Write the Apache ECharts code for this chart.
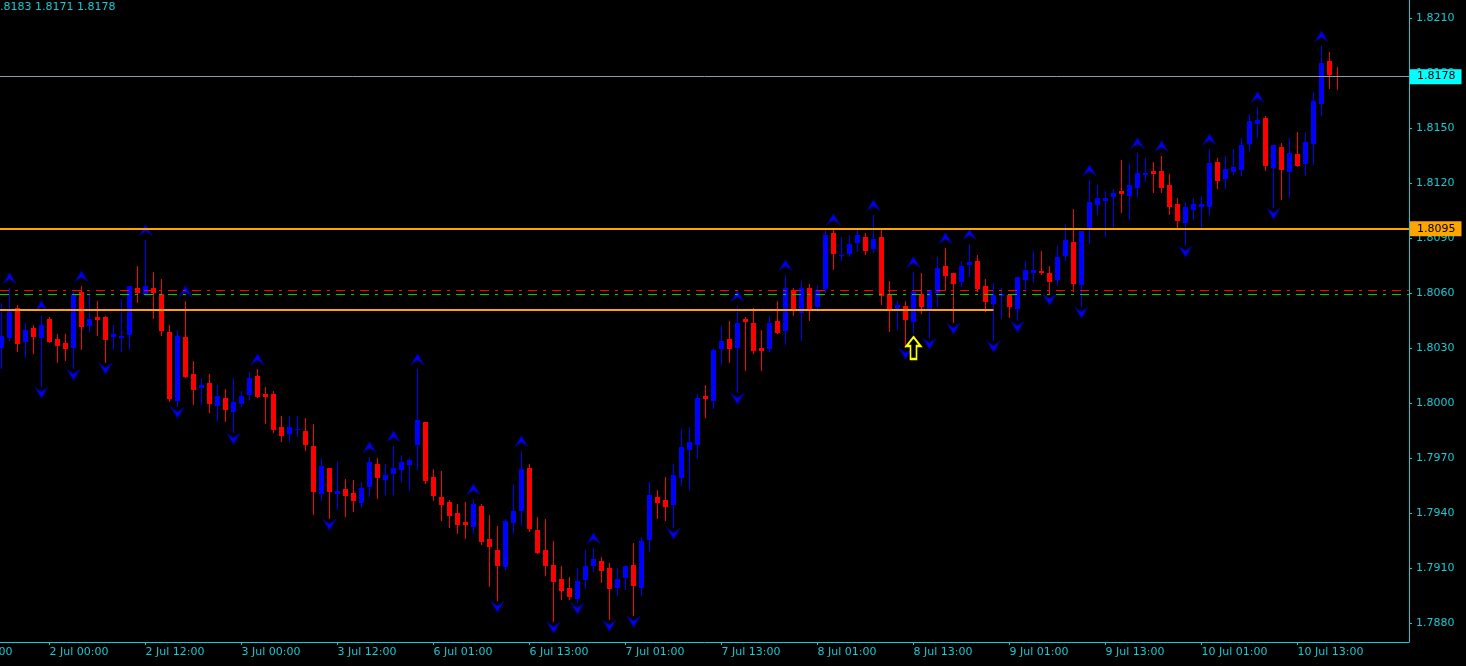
<!DOCTYPE html>
<html><head><meta charset="utf-8">
<script src="https://cdn.jsdelivr.net/npm/echarts@6/dist/echarts.min.js"></script>
<style>html,body{margin:0;padding:0;background:#000;}#c{width:1466px;height:666px;}</style>
</head><body><div id="c"></div>
<script>
// ---- DATA (GBPCAD H1, 1 Jul 18:00 .. 10 Jul 18:00) ----
const opens = [
1.80300,1.80355,1.80518,1.80333,1.80409,1.80355,1.80458,1.80349,1.80327,1.80300,
1.80605,1.80420,1.80469,1.80469,1.80360,1.80355,1.80371,1.80627,1.80589,1.80627,
1.80595,1.80387,1.80011,1.80360,1.80158,1.80082,1.80109,1.79984,1.80027,1.79951,
1.79995,1.80044,1.80147,1.80049,1.80049,1.79869,1.79831,1.79853,1.79847,1.79765,
1.79504,1.79645,1.79504,1.79531,1.79509,1.79455,1.79542,1.79667,1.79580,1.79613,
1.79635,1.79662,1.79771,1.79896,1.79596,1.79487,1.79460,1.79400,1.79351,1.79324,
1.79438,1.79258,1.79198,1.79105,1.79345,1.79411,1.79645,1.79307,1.79198,1.79116,
1.79040,1.78991,1.78931,1.79035,1.79111,1.79138,1.79100,1.78991,1.79046,1.79116,
1.78991,1.79253,1.79487,1.79471,1.79444,1.79591,1.79744,1.79771,1.80038,1.80011,
1.80295,1.80349,1.80300,1.80458,1.80436,1.80300,1.80295,1.80447,1.80393,1.80616,
1.80491,1.80627,1.80524,1.80622,1.80927,1.80802,1.80813,1.80873,1.80905,1.80840,
1.80905,1.80595,1.80513,1.80529,1.80442,1.80595,1.80513,1.80600,1.80747,1.80709,
1.80660,1.80753,1.80775,1.80638,1.80540,1.80584,1.80589,1.80513,1.80671,1.80709,
1.80720,1.80709,1.80671,1.80802,1.80878,1.80644,1.80955,1.81080,1.81102,1.81124,
1.81156,1.81129,1.81173,1.81244,1.81265,1.81265,1.81189,1.81085,1.80982,1.81053,
1.81069,1.81069,1.81315,1.81222,1.81260,1.81271,1.81413,1.81522,1.81555,1.81282,
1.81396,1.81260,1.81358,1.81304,1.81413,1.81631,1.81865,1.81785];
const highs = [
1.80545,1.80627,1.80535,1.80436,1.80425,1.80475,1.80469,1.80376,1.80376,1.80605,
1.80638,1.80589,1.80556,1.80475,1.80425,1.80567,1.80638,1.80747,1.80889,1.80715,
1.80676,1.80425,1.80398,1.80556,1.80229,1.80136,1.80158,1.80098,1.80076,1.80136,
1.80065,1.80169,1.80185,1.80087,1.80065,1.79929,1.79929,1.79929,1.79918,1.79885,
1.79700,1.79645,1.79678,1.79585,1.79580,1.79569,1.79705,1.79700,1.79667,1.79765,
1.79716,1.79700,1.80185,1.79896,1.79640,1.79629,1.79471,1.79449,1.79460,1.79476,
1.79449,1.79389,1.79329,1.79367,1.79558,1.79738,1.79667,1.79378,1.79367,1.79247,
1.79111,1.79051,1.79100,1.79198,1.79209,1.79160,1.79127,1.79100,1.79116,1.79236,
1.79269,1.79569,1.79525,1.79596,1.79667,1.79858,1.79869,1.80049,1.80098,1.80300,
1.80420,1.80447,1.80529,1.80469,1.80518,1.80398,1.80475,1.80556,1.80698,1.80627,
1.80665,1.80649,1.80638,1.80944,1.80949,1.80905,1.80916,1.80944,1.80927,1.81025,
1.80944,1.80665,1.80556,1.80556,1.80715,1.80709,1.80616,1.80796,1.80845,1.80709,
1.80775,1.80867,1.80807,1.80676,1.80655,1.80627,1.80589,1.80687,1.80775,1.80829,
1.80829,1.80747,1.80856,1.80976,1.81058,1.80938,1.81216,1.81189,1.81156,1.81167,
1.81325,1.81309,1.81364,1.81336,1.81315,1.81347,1.81249,1.81118,1.81096,1.81118,
1.81129,1.81385,1.81336,1.81347,1.81385,1.81445,1.81576,1.81615,1.81565,1.81407,
1.81418,1.81445,1.81478,1.81478,1.81696,1.81947,1.81915,1.81830];
const lows = [
1.80191,1.80344,1.80284,1.80251,1.80273,1.80093,1.80333,1.80224,1.80235,1.80191,
1.80295,1.80393,1.80371,1.80224,1.80295,1.80284,1.80295,1.80551,1.80589,1.80464,
1.80371,1.80011,1.79984,1.80142,1.79995,1.79995,1.79951,1.79902,1.79902,1.79842,
1.79984,1.80022,1.80033,1.79891,1.79842,1.79793,1.79793,1.79820,1.79744,1.79395,
1.79471,1.79373,1.79422,1.79384,1.79411,1.79433,1.79493,1.79482,1.79504,1.79504,
1.79575,1.79526,1.79640,1.79564,1.79471,1.79362,1.79324,1.79291,1.79264,1.79291,
1.79231,1.79002,1.78925,1.79089,1.79291,1.79335,1.79302,1.79182,1.79062,1.78811,
1.78931,1.78931,1.78915,1.78991,1.79084,1.79024,1.78822,1.78953,1.78986,1.78844,
1.78953,1.79193,1.79373,1.79362,1.79324,1.79553,1.79531,1.79700,1.79924,1.79973,
1.80213,1.80224,1.80060,1.80180,1.80273,1.80180,1.80284,1.80382,1.80322,1.80480,
1.80344,1.80453,1.80502,1.80605,1.80731,1.80780,1.80802,1.80829,1.80813,1.80824,
1.80540,1.80393,1.80404,1.80305,1.80387,1.80491,1.80360,1.80529,1.80616,1.80442,
1.80638,1.80693,1.80611,1.80502,1.80344,1.80464,1.80469,1.80453,1.80611,1.80660,
1.80704,1.80600,1.80644,1.80780,1.80611,1.80529,1.80873,1.81031,1.80911,1.80960,
1.81042,1.81004,1.81124,1.81211,1.81151,1.81151,1.81031,1.80960,1.80862,1.81004,
1.80960,1.81031,1.81173,1.81173,1.81249,1.81244,1.81380,1.81451,1.81271,1.81069,
1.81113,1.81124,1.81293,1.81244,1.81304,1.81571,1.81718,1.81710];
const closes = [
1.80365,1.80507,1.80322,1.80398,1.80360,1.80425,1.80333,1.80311,1.80295,1.80595,
1.80415,1.80458,1.80453,1.80344,1.80376,1.80365,1.80638,1.80600,1.80638,1.80600,
1.80393,1.80022,1.80365,1.80142,1.80071,1.80098,1.79995,1.80038,1.79962,1.80005,
1.80038,1.80136,1.80033,1.80033,1.79853,1.79820,1.79869,1.79858,1.79771,1.79515,
1.79656,1.79515,1.79520,1.79493,1.79465,1.79536,1.79678,1.79591,1.79607,1.79645,
1.79678,1.79689,1.79907,1.79575,1.79493,1.79444,1.79384,1.79335,1.79335,1.79449,
1.79242,1.79215,1.79111,1.79356,1.79411,1.79640,1.79313,1.79182,1.79111,1.79024,
1.78975,1.78942,1.79029,1.79111,1.79149,1.79084,1.78986,1.79040,1.79111,1.79002,
1.79247,1.79498,1.79455,1.79433,1.79607,1.79760,1.79787,1.80027,1.80022,1.80289,
1.80338,1.80295,1.80436,1.80442,1.80284,1.80284,1.80436,1.80382,1.80627,1.80502,
1.80627,1.80513,1.80616,1.80916,1.80813,1.80807,1.80867,1.80916,1.80829,1.80895,
1.80584,1.80502,1.80535,1.80453,1.80605,1.80524,1.80616,1.80736,1.80693,1.80649,
1.80747,1.80769,1.80622,1.80551,1.80589,1.80595,1.80524,1.80687,1.80725,1.80725,
1.80709,1.80660,1.80796,1.80889,1.80649,1.80938,1.81096,1.81118,1.81118,1.81145,
1.81140,1.81189,1.81255,1.81255,1.81249,1.81173,1.81069,1.80993,1.81069,1.81085,
1.81085,1.81309,1.81211,1.81276,1.81287,1.81407,1.81538,1.81544,1.81293,1.81407,
1.81271,1.81364,1.81293,1.81424,1.81647,1.81855,1.81789,1.81780];
const upFractals = [1,5,10,18,23,32,46,49,52,59,65,74,92,98,104,109,114,118,121,136,142,145,151,157,165];
const downFractals = [5,9,13,22,29,41,62,69,72,76,79,84,92,113,116,119,124,127,131,135,148,159];
const xTickIdx = [6,18,30,42,54,66,78,90,102,114,126,138,150,162];
const xTickLabels = ['2 Jul 00:00','2 Jul 12:00','3 Jul 00:00','3 Jul 12:00','6 Jul 01:00','6 Jul 13:00','7 Jul 01:00','7 Jul 13:00','8 Jul 01:00','8 Jul 13:00','9 Jul 01:00','9 Jul 13:00','10 Jul 01:00','10 Jul 13:00'];
const prevTickLabel = '1 Jul 12:00';
const yTicks = [1.7880,1.7910,1.7940,1.7970,1.8000,1.8030,1.8060,1.8090,1.8120,1.8150,1.8180,1.8210];
const resistanceLevel = 1.8095;
const supportLevel = 1.8051;
const supportEndIdx = 124;
const pivotRed = 1.80615;
const pivotGreen = 1.80593;
const bidPrice = 1.8178;
const signalIdx = 114;
const headerText = '.8183 1.8171 1.8178';

// ---- CHART ----
const FG = '#19c9d3';
const FONT = 'DejaVu Sans';
const X_MIN = -0.1875, X_MAX = 175.9375;
const Y_MIN = 1.78696, Y_MAX = 1.82198;

const candleData = opens.map((o, i) => [i, o, closes[i], lows[i], highs[i]]);

function hLine(value, x0, x1, lineStyle, label) {
  return [
    {coord: [x0, value]},
    {coord: [x1, value], lineStyle: lineStyle, label: label || {show: false}}
  ];
}
function priceTag(value, bg) {
  return {show: true, position: 'end', distance: 1, formatter: value.toFixed(4),
          backgroundColor: bg, color: '#000', fontFamily: FONT, fontSize: 11,
          padding: [2, 6, 1, 7], lineHeight: 12};
}

const chart = echarts.init(document.getElementById('c'), null, {renderer: 'canvas'});
chart.setOption({
  backgroundColor: '#000000',
  animation: false,
  grid: {left: 0, right: 57, top: 0, bottom: 24, containLabel: false},
  xAxis: {
    type: 'value', min: X_MIN, max: X_MAX,
    axisLine: {show: true, onZero: false, lineStyle: {color: FG, width: 1}},
    axisTick: {show: true, length: 3, customValues: xTickIdx, lineStyle: {color: FG}},
    axisLabel: {
      show: true, customValues: xTickIdx, color: FG, fontFamily: FONT, fontSize: 11,
      align: 'left', margin: 5,
      formatter: v => xTickLabels[xTickIdx.indexOf(Math.round(v))] || ''
    },
    splitLine: {show: false}
  },
  yAxis: {
    type: 'value', position: 'right', min: Y_MIN, max: Y_MAX, scale: true,
    axisLine: {show: true, onZero: false, lineStyle: {color: FG, width: 1}},
    axisTick: {show: true, length: 3, customValues: yTicks, lineStyle: {color: FG}},
    axisLabel: {
      show: true, customValues: yTicks, color: FG, fontFamily: FONT, fontSize: 11, margin: 7,
      formatter: v => v.toFixed(4)
    },
    splitLine: {show: false}
  },
  graphic: [
    {type: 'text', left: 0, top: 2, style: {text: headerText, fill: FG, font: '11px "DejaVu Sans"'}},
    {type: 'text', x: -46.5, y: 647, style: {text: prevTickLabel, fill: FG, font: '11px "DejaVu Sans"'}}
  ],
  series: [
    {
      type: 'custom',
      name: 'candles',
      data: candleData,
      encode: {x: 0, y: [1, 2, 3, 4]},
      clip: true,
      z: 3,
      renderItem: function (params, api) {
        const i = api.value(0);
        const o = api.value(1), c = api.value(2), l = api.value(3), h = api.value(4);
        const pO = api.coord([i, o]), pC = api.coord([i, c]);
        const pL = api.coord([i, l]), pH = api.coord([i, h]);
        const color = c >= o ? '#0000ff' : '#ff0000';
        const cx = Math.round(pO[0] - 0.5) + 0.5;
        const top = Math.round(Math.min(pO[1], pC[1]));
        const bot = Math.round(Math.max(pO[1], pC[1]));
        const bh = Math.max(1, bot - top);
        return {
          type: 'group',
          children: [
            {type: 'line', shape: {x1: cx, y1: Math.round(pH[1]), x2: cx, y2: Math.round(pL[1]) + 1},
             style: {stroke: color, lineWidth: 1}},
            {type: 'rect', shape: {x: cx - 2.5, y: top, width: 5, height: bh}, style: {fill: color}}
          ]
        };
      }
    },
    {
      type: 'line', name: 'levels', data: [], z: 2, silent: true,
      markLine: {
        silent: true, symbol: 'none', animation: false, precision: 5,
        data: [
          hLine(pivotRed, X_MIN, X_MAX, {color: '#ff0000', width: 1, type: [9, 6, 3, 6]}),
          hLine(pivotGreen, X_MIN, X_MAX, {color: '#00d000', width: 1, type: [9, 6, 3, 6]}),
          hLine(supportLevel, X_MIN, supportEndIdx, {color: '#ffa500', width: 2, type: 'solid'}),
          hLine(resistanceLevel, X_MIN, X_MAX, {color: '#ffa500', width: 2, type: 'solid'}, priceTag(resistanceLevel, '#ffa500')),
          hLine(bidPrice, X_MIN, X_MAX, {color: '#8c9caa', width: 1, type: 'solid'}, priceTag(bidPrice, '#00ffff'))
        ]
      }
    },
    {
      type: 'scatter', name: 'fractalUp', z: 4,
      data: upFractals.map(i => [i, highs[i]]),
      symbol: 'path://M6,0 L12,10 L6,6 L0,10 Z', symbolSize: [12, 10], symbolOffset: [0, -10],
      itemStyle: {color: '#0000ff', borderColor: '#00008b', borderWidth: 1, opacity: 1}
    },
    {
      type: 'scatter', name: 'fractalDown', z: 4,
      data: downFractals.map(i => [i, lows[i]]),
      symbol: 'path://M0,0 L6,4 L12,0 L6,10 Z', symbolSize: [12, 10], symbolOffset: [0, 7],
      itemStyle: {color: '#0000ff', borderColor: '#00008b', borderWidth: 1, opacity: 1}
    },
    {
      type: 'scatter', name: 'signal', z: 5,
      data: [[signalIdx, lows[signalIdx]]],
      symbol: 'path://M7,0 L14,9 L10,9 L10,22 L4,22 L4,9 L0,9 Z', symbolSize: [14, 22], symbolOffset: [0, 16],
      itemStyle: {color: '#000000', borderColor: '#ffff00', borderWidth: 2, opacity: 1}
    }
  ]
});
</script>
</body></html>
